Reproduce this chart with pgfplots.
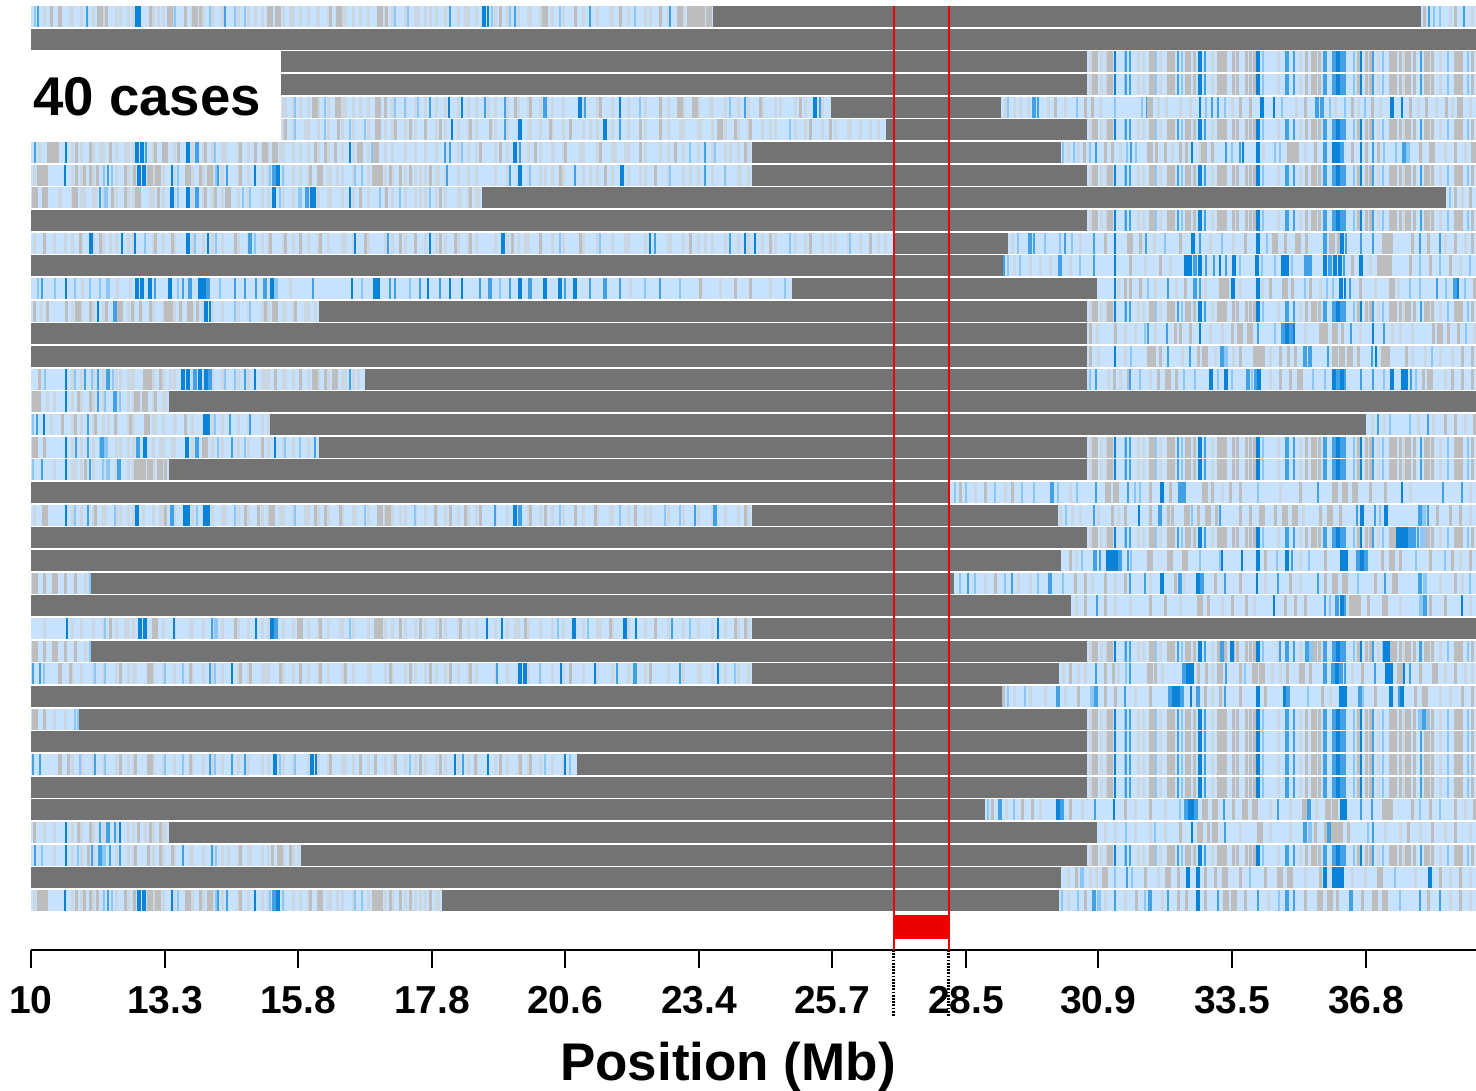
\documentclass[border=0pt]{standalone}
\usepackage{fontspec}
\setmainfont{Liberation Sans}
\usepackage{pgfplots}
\usepackage{pgfplotstable}
\pgfplotsset{compat=1.18}
\definecolor{cband}{HTML}{C6E2FF}
\definecolor{cdark}{HTML}{737373}
\definecolor{cg}{HTML}{BDBDBD}
\definecolor{cp}{HTML}{CAD6E2}
\definecolor{cl}{HTML}{8CC6F5}
\definecolor{cm}{HTML}{42A0E4}
\definecolor{cd}{HTML}{0A82D8}
\definecolor{cred}{HTML}{EE0000}
\newcommand\T[2]{\pgfplotstableread[row sep=\\]{x c\\ #2 }#1}
\T\Tex{72 p\\81 p\\93 p\\103 p\\116 p\\128 p\\133 p\\153 p\\163 p\\174 p\\192 p\\203 p\\212 p\\222 p\\238 p\\248 p\\262 p\\268 p\\283 p\\293 p\\308 p\\318 p\\328 p\\342 p\\353 p\\368 p\\385 p\\392 p\\405 p\\415 p\\425 p\\436 p\\445 p\\458 p\\468 p\\476 p\\495 p\\507 p\\518 p\\528 p\\540 p\\552 p\\563 p\\583 p\\597 p\\612 p\\628 p\\645 p\\668 p\\683 p\\698 p\\712 p\\725 p\\738 p\\748 p\\762 p\\775 p\\795 p\\805 p\\822 p\\835 p\\848 p\\860 p\\878 p\\}
\T\RZero{1090 p\\1095 G\\1101 p\\1106 p\\1110 G\\1115 d\\1125 l\\1126 m\\1130 m\\1138 p\\1143 p\\1152 G\\1156 l\\1160 p\\1168 g\\1172 G\\1178 m\\1182 l\\1188 G\\1194 g\\1200 D\\1205 m\\1212 p\\1220 G\\1224 G\\1233 g\\1237 g\\1246 g\\1250 g\\1254 g\\1258 D\\1263 l\\1278 p\\1287 M\\1294 m\\1300 p\\1306 g\\1314 G\\1319 g\\1325 M\\1334 M\\1338 D\\1342 M\\1345 m\\1354 l\\1358 g\\1361 d\\1366 g\\1370 g\\1373 m\\1378 p\\1383 l\\1390 g\\1394 G\\1400 g\\1404 p\\1408 G\\1414 g\\1421 m\\1427 G\\1432 g\\1440 p\\1448 l\\1455 g\\1460 G\\1468 l\\1472 g\\}
\T\ROne{1424 g\\1429 m\\1434 l\\1440 l\\1450 p\\1455 g\\1464 m\\1472 p\\}
\T\RFive{1005 p\\1008 l\\1014 p\\1020 p\\1028 p\\1034 M\\1038 m\\1048 p\\1055 g\\1065 p\\1077 l\\1085 g\\1092 g\\1100 p\\1115 l\\1142 l\\1147 m\\1150 G\\1158 p\\1166 p\\1180 p\\1190 p\\1200 d\\1206 l\\1212 m\\1218 m\\1225 l\\1232 p\\1240 g\\1250 g\\1262 D\\1274 d\\1282 l\\1296 p\\1305 g\\1317 M\\1322 M\\1330 l\\1335 p\\1345 l\\1352 g\\1358 p\\1365 l\\1372 g\\1380 p\\1392 D\\1402 d\\1410 g\\1418 p\\1426 g\\1436 p\\1446 g\\1452 p\\1460 G\\1470 p\\}
\T\RSeven{1063 l\\1068 p\\1074 l\\1078 p\\1084 g\\1090 l\\1096 m\\1105 g\\1112 g\\1120 p\\1127 l\\1131 m\\1136 l\\1150 G\\1156 g\\1165 g\\1172 p\\1180 g\\1186 g\\1192 d\\1200 p\\1204 G\\1212 g\\1226 m\\1232 l\\1240 m\\1243 d\\1258 D\\1263 p\\1275 l\\1280 l\\1290 G\\1296 G\\1305 p\\1315 g\\1325 M\\1334 D\\1338 D\\1342 M\\1352 g\\1361 d\\1366 g\\1373 m\\1378 g\\1384 l\\1396 l\\1404 M\\1408 L\\1420 g\\1432 G\\1445 p\\1455 g\\1465 p\\1474 G\\}
\T\RNine{1450 l\\1455 g\\1462 p\\1470 g\\}
\T\REleven{1012 p\\1018 l\\1030 M\\1034 m\\1045 l\\1060 l\\1065 m\\1072 l\\1080 p\\1094 m\\1105 g\\1115 d\\1130 G\\1140 g\\1146 m\\1154 p\\1165 l\\1180 g\\1193 D\\1200 m\\1210 p\\1222 l\\1233 p\\1245 g\\1258 D\\1267 l\\1275 G\\1285 g\\1298 G\\1306 g\\1325 M\\1332 G\\1338 g\\1342 D\\1346 m\\1361 m\\1373 m\\1385 G\\1390 G\\1412 g\\1420 m\\1428 g\\1440 m\\1445 p\\1455 g\\1465 p\\1472 g\\}
\T\RTwelve{1004 m\\1008 l\\1014 p\\1020 l\\1030 p\\1040 p\\1050 p\\1060 M\\1070 p\\1080 l\\1094 m\\1115 d\\1130 g\\1145 p\\1160 g\\1170 p\\1186 D\\1190 D\\1195 M\\1200 D\\1206 m\\1214 m\\1220 d\\1226 m\\1234 D\\1240 l\\1257 D\\1262 l\\1275 l\\1283 D\\1287 D\\1292 l\\1306 M\\1310 M\\1325 D\\1330 M\\1335 D\\1340 D\\1344 m\\1352 g\\1361 D\\1370 p\\1380 G\\1386 G\\1390 g\\1410 g\\1420 l\\1430 g\\1440 l\\1450 g\\1460 p\\1470 l\\}
\T\RThirteen{1115 d\\1118 p\\1125 g\\1130 g\\1140 g\\1148 l\\1155 p\\1168 m\\1176 p\\1185 g\\1195 M\\1200 m\\1205 p\\1222 G\\1226 G\\1233 D\\1240 p\\1258 D\\1262 p\\1270 g\\1285 G\\1292 g\\1305 l\\1310 g\\1320 p\\1327 l\\1333 l\\1341 D\\1345 d\\1350 m\\1360 g\\1375 p\\1392 G\\1398 p\\1410 l\\1420 l\\1437 m\\1446 l\\1455 M\\1458 d\\1465 l\\1474 g\\}
\T\RFifteen{1090 g\\1097 p\\1115 g\\1125 p\\1135 p\\1145 l\\1148 m\\1155 p\\1167 m\\1175 g\\1180 g\\1190 g\\1200 d\\1210 p\\1222 p\\1232 g\\1240 G\\1250 G\\1258 m\\1275 l\\1283 M\\1287 D\\1291 M\\1294 d\\1305 p\\1320 g\\1325 G\\1335 G\\1342 g\\1351 m\\1360 p\\1373 d\\1384 m\\1392 p\\1400 p\\1412 p\\1433 g\\1440 G\\1448 g\\1458 g\\1466 l\\1474 p\\}
\T\RSixteen{1090 g\\1098 p\\1115 d\\1125 p\\1131 l\\1150 G\\1154 g\\1160 g\\1168 m\\1182 p\\1190 m\\1198 g\\1205 G\\1215 p\\1222 M\\1226 L\\1233 p\\1240 g\\1256 G\\1262 G\\1270 p\\1280 g\\1288 g\\1295 g\\1305 M\\1310 M\\1328 m\\1335 G\\1342 G\\1350 G\\1358 g\\1372 m\\1376 d\\1384 G\\1388 g\\1406 g\\1412 p\\1425 p\\1432 l\\1440 p\\1452 p\\1462 g\\1472 g\\}
\T\RSeventeen{1090 l\\1096 m\\1108 p\\1114 g\\1120 p\\1128 g\\1130 m\\1140 l\\1150 p\\1158 g\\1168 G\\1176 g\\1184 l\\1195 l\\1211 D\\1218 l\\1226 D\\1232 l\\1248 M\\1252 l\\1256 M\\1259 D\\1270 p\\1280 g\\1290 g\\1300 G\\1313 l\\1325 l\\1334 D\\1338 M\\1342 D\\1345 m\\1361 m\\1373 m\\1384 l\\1392 D\\1403 D\\1406 D\\1411 m\\1416 l\\1423 g\\1430 G\\1445 p\\1452 g\\1462 g\\1472 g\\}
\T\RNineteen{1372 p\\1378 m\\1384 p\\1390 l\\1410 l\\1418 p\\1428 m\\1433 p\\1445 g\\1455 g\\1465 p\\1474 g\\}
\T\RTwentyTwo{955 l\\960 g\\966 l\\975 p\\985 g\\995 l\\1005 p\\1012 g\\1022 l\\1034 l\\1052 M\\1058 l\\1070 p\\1077 l\\1096 m\\1108 G\\1116 G\\1128 m\\1135 l\\1140 l\\1150 g\\1162 D\\1170 g\\1180 M\\1184 M\\1205 G\\1212 g\\1222 p\\1230 g\\1240 g\\1258 l\\1280 p\\1300 g\\1318 m\\1335 G\\1345 G\\1355 G\\1370 g\\1385 g\\1402 d\\1410 p\\1443 m\\1462 m\\1470 p\\}
\T\RTwentyThree{1060 p\\1066 l\\1072 p\\1080 p\\1094 m\\1098 p\\1112 g\\1118 p\\1125 g\\1139 d\\1150 g\\1160 M\\1168 g\\1172 g\\1187 G\\1192 l\\1198 g\\1208 G\\1216 g\\1220 m\\1240 g\\1250 g\\1262 G\\1275 g\\1285 G\\1295 G\\1303 p\\1320 g\\1330 G\\1340 g\\1357 m\\1362 D\\1375 m\\1380 l\\1386 D\\1420 M\\1424 L\\1428 m\\1437 g\\1450 g\\1460 g\\1470 p\\}
\T\RTwentyFourX{1398 D\\1402 D\\1406 D\\1410 M\\1414 M\\1418 m\\1422 L\\1426 l\\}
\T\RTwentyFive{1060 m\\1070 g\\1076 p\\1082 l\\1095 M\\1100 m\\1108 D\\1112 D\\1116 D\\1120 M\\1128 m\\1131 l\\1150 G\\1170 G\\1185 G\\1200 l\\1220 l\\1222 d\\1242 d\\1258 D\\1265 g\\1277 l\\1287 D\\1292 m\\1300 p\\1309 l\\1325 g\\1342 D\\1346 D\\1358 M\\1362 D\\1366 M\\1382 g\\1392 G\\1400 g\\1416 l\\1430 g\\1445 l\\1452 g\\1460 p\\1470 g\\}
\T\RTwentySix{960 l\\968 m\\975 l\\985 p\\995 g\\1005 l\\1012 m\\1018 p\\1030 p\\1038 l\\1050 M\\1063 l\\1075 g\\1085 g\\1092 p\\1105 g\\1115 p\\1125 g\\1130 m\\1145 m\\1150 p\\1162 D\\1175 g\\1180 M\\1184 p\\1198 D\\1202 M\\1215 g\\1225 m\\1240 g\\1257 d\\1265 p\\1278 m\\1290 g\\1300 p\\1318 m\\1325 g\\1335 G\\1345 G\\1358 l\\1375 g\\1385 m\\1395 G\\1420 M\\1425 L\\1440 p\\1455 g\\1462 p\\1470 l\\}
\T\RTwentySeven{1076 p\\1085 g\\1097 m\\1105 g\\1115 p\\1130 p\\1150 g\\1165 g\\1180 p\\1200 G\\1208 g\\1222 p\\1232 g\\1246 g\\1254 p\\1274 d\\1285 g\\1295 g\\1305 g\\1325 m\\1330 l\\1337 M\\1342 D\\1345 m\\1352 G\\1358 G\\1368 g\\1385 G\\1400 p\\1421 L\\1425 M\\1430 g\\1445 g\\1462 d\\1470 p\\}
\T\RTwentyNineX{1222 M\\1232 D\\1280 m\\1307 M\\1311 L\\1385 D\\1388 D\\1420 m\\}
\T\RThirty{1063 p\\1070 g\\1078 p\\1085 p\\1096 m\\1105 g\\1113 g\\1118 p\\1126 l\\1130 m\\1150 G\\1155 g\\1162 p\\1184 M\\1188 D\\1192 D\\1198 g\\1206 g\\1212 p\\1220 G\\1226 m\\1240 g\\1245 l\\1255 G\\1262 G\\1272 p\\1280 p\\1287 g\\1302 G\\1310 g\\1325 M\\1333 M\\1337 D\\1341 M\\1345 m\\1352 p\\1362 g\\1375 m\\1387 D\\1391 D\\1400 G\\1404 d\\1410 m\\1420 g\\1435 G\\1445 p\\1455 g\\1465 p\\1472 p\\}
\T\RThirtyOne{1003 g\\1008 l\\1014 p\\1025 l\\1030 p\\1045 p\\1058 M\\1065 p\\1078 g\\1092 L\\1096 M\\1105 g\\1115 g\\1125 m\\1135 p\\1150 g\\1170 M\\1174 D\\1178 D\\1182 M\\1191 d\\1198 M\\1205 g\\1212 p\\1220 g\\1225 m\\1240 g\\1258 D\\1265 g\\1285 D\\1288 M\\1308 l\\1322 g\\1330 p\\1341 D\\1345 D\\1360 M\\1363 l\\1375 g\\1391 D\\1400 M\\1402 D\\1415 g\\1425 G\\1440 p\\1450 p\\1462 g\\1472 g\\}
\T\RThirtyTwoX{1420 L\\1424 M\\1428 l\\}
\T\RThirtySix{988 l\\992 g\\1000 M\\1006 p\\1014 l\\1022 g\\1032 g\\1040 p\\1058 D\\1062 M\\1070 g\\1082 p\\1095 m\\1114 d\\1125 g\\1135 p\\1150 g\\1165 p\\1180 l\\1186 M\\1190 D\\1193 D\\1196 M\\1205 G\\1215 G\\1224 m\\1233 g\\1245 G\\1255 G\\1270 p\\1278 m\\1290 p\\1305 G\\1309 M\\1316 p\\1328 G\\1335 G\\1342 D\\1345 D\\1361 m\\1372 m\\1385 G\\1390 G\\1412 g\\1420 l\\1430 g\\1440 l\\1455 g\\1465 p\\1474 g\\}
\T\RThirtySeven{1105 p\\1115 p\\1126 l\\1135 p\\1150 p\\1155 l\\1165 p\\1180 g\\1192 d\\1200 G\\1208 g\\1215 G\\1225 m\\1240 p\\1260 G\\1270 p\\1290 p\\1305 M\\1310 L\\1315 g\\1325 g\\1329 M\\1334 G\\1340 G\\1348 g\\1368 l\\1373 m\\1385 p\\1400 p\\1408 g\\1420 p\\1432 g\\1445 p\\1455 g\\1470 p\\}
\T\RThirtyNine{1060 D\\1068 p\\1076 g\\1082 L\\1090 p\\1096 p\\1105 G\\1115 l\\1127 m\\1132 l\\1145 g\\1158 p\\1168 G\\1178 g\\1188 D\\1198 D\\1205 g\\1215 g\\1225 G\\1240 g\\1250 l\\1265 g\\1280 G\\1290 G\\1305 p\\1320 g\\1325 D\\1334 D\\1338 D\\1342 D\\1352 p\\1365 p\\1380 G\\1395 l\\1415 p\\1430 D\\1440 g\\1450 p\\1460 g\\1470 p\\}
\T\RForty{1062 l\\1068 p\\1078 l\\1085 g\\1094 M\\1099 L\\1105 p\\1115 m\\1125 p\\1136 g\\1145 l\\1150 M\\1162 p\\1168 m\\1178 g\\1186 g\\1198 D\\1205 g\\1218 m\\1226 G\\1234 G\\1245 g\\1258 m\\1268 p\\1279 l\\1287 M\\1294 m\\1305 g\\1320 G\\1330 G\\1337 g\\1351 M\\1362 g\\1375 G\\1385 G\\1400 l\\1420 m\\1428 g\\1440 m\\1450 p\\1460 g\\1470 p\\}
\T\LOne{35 l\\38 m\\45 p\\52 g\\60 g\\70 p\\87 m\\100 G\\106 g\\120 p\\137 D\\140 d\\150 g\\158 p\\170 G\\175 l\\185 g\\195 G\\200 g\\210 l\\225 m\\235 l\\245 l\\255 p\\270 G\\278 G\\290 p\\300 p\\317 p\\330 g\\339 G\\345 p\\360 p\\380 G\\386 g\\395 l\\408 l\\418 p\\430 p\\450 m\\465 p\\484 D\\488 d\\492 l\\500 g\\510 l\\515 m\\530 p\\545 G\\560 l\\575 g\\590 m\\610 p\\620 g\\635 l\\650 p\\660 g\\670 m\\680 G\\690 G\\696 G\\702 G\\709 G\\}
\T\LFive{285 p\\295 l\\300 p\\315 G\\325 l\\338 G\\345 p\\360 p\\378 G\\385 g\\395 l\\405 l\\418 l\\430 m\\449 d\\462 d\\485 m\\488 p\\505 m\\515 g\\530 g\\545 M\\580 D\\585 m\\600 g\\620 d\\640 l\\660 g\\680 G\\695 G\\710 p\\730 l\\745 m\\760 g\\780 p\\800 g\\815 D\\820 m\\}
\T\LSix{285 g\\295 l\\305 p\\325 l\\338 g\\350 l\\365 l\\378 G\\385 p\\395 g\\410 g\\425 g\\440 g\\452 d\\470 g\\490 g\\505 m\\520 D\\530 p\\550 g\\570 g\\590 p\\605 D\\620 m\\640 g\\660 g\\680 p\\700 p\\720 G\\735 g\\750 g\\770 p\\790 l\\810 g\\830 g\\850 p\\870 p\\}
\T\LSeven{35 m\\40 p\\50 G\\56 G\\66 d\\76 g\\90 g\\100 p\\110 g\\125 p\\137 D\\142 D\\146 m\\155 g\\165 G\\178 g\\188 D\\197 M\\205 g\\215 l\\225 p\\240 g\\255 g\\265 G\\275 G\\280 p\\300 p\\315 g\\325 g\\335 g\\350 d\\360 G\\372 l\\376 G\\445 m\\450 m\\462 l\\480 g\\500 g\\515 D\\520 m\\535 g\\553 p\\565 g\\580 p\\600 g\\615 p\\625 p\\640 g\\660 p\\675 g\\690 l\\705 m\\715 l\\730 p\\745 g\\}
\T\LEight{35 p\\40 G\\45 G\\65 d\\76 g\\84 g\\90 g\\97 g\\104 l\\108 m\\112 l\\125 g\\134 g\\139 D\\144 D\\150 G\\158 G\\172 d\\178 l\\188 G\\200 g\\210 G\\216 l\\218 m\\227 m\\240 g\\255 d\\270 l\\274 M\\278 D\\283 l\\300 p\\310 g\\320 G\\330 p\\337 p\\355 l\\362 l\\375 G\\380 G\\390 g\\400 g\\410 g\\420 p\\430 g\\438 p\\447 m\\510 m\\520 D\\530 l\\545 p\\560 g\\575 m\\590 p\\605 g\\622 D\\640 p\\655 g\\670 l\\690 p\\705 m\\725 l\\740 p\\}
\T\LNine{35 G\\45 G\\60 p\\75 G\\84 p\\95 p\\100 m\\106 L\\112 g\\125 g\\138 G\\150 p\\158 g\\172 D\\178 l\\188 D\\197 M\\205 g\\215 g\\228 G\\243 l\\250 l\\274 D\\280 l\\300 L\\307 M\\312 D\\315 d\\330 p\\350 d\\360 g\\380 l\\386 g\\400 l\\420 p\\430 l\\440 g\\460 p\\470 g\\478 p\\}
\T\LEleven{35 p\\45 g\\55 p\\65 p\\80 g\\91 D\\100 g\\110 p\\122 d\\135 d\\145 l\\155 g\\172 g\\188 D\\195 l\\208 d\\216 l\\235 g\\250 M\\255 l\\270 g\\285 g\\300 g\\320 g\\345 p\\355 d\\365 g\\388 m\\400 g\\415 g\\430 d\\440 g\\455 g\\470 g\\503 D\\512 g\\525 p\\540 g\\560 l\\580 g\\600 l\\625 p\\650 d\\655 m\\670 p\\690 g\\705 p\\730 m\\745 d\\755 d\\770 g\\790 l\\810 g\\830 p\\850 l\\870 g\\885 p\\}
\T\LThirteen{38 l\\42 m\\55 l\\66 d\\75 l\\82 p\\90 l\\100 l\\108 L\\117 p\\130 p\\137 D\\142 D\\150 D\\155 m\\170 D\\178 l\\183 m\\190 M\\200 D\\204 D\\208 M\\220 l\\235 m\\245 m\\256 m\\265 M\\272 D\\276 L\\290 p\\313 m\\352 d\\362 l\\375 D\\378 D\\390 m\\395 m\\410 l\\420 m\\428 d\\440 m\\450 d\\462 d\\480 m\\490 M\\500 l\\510 m\\520 D\\530 M\\545 D\\560 D\\565 m\\575 D\\590 m\\605 M\\620 m\\630 p\\645 l\\660 m\\680 l\\700 g\\720 p\\735 g\\750 g\\770 p\\785 l\\}
\T\LFourteen{35 g\\42 p\\48 g\\66 g\\78 G\\90 g\\98 d\\106 g\\115 M\\120 G\\132 g\\140 g\\150 g\\165 g\\170 G\\180 g\\190 G\\197 g\\206 D\\210 d\\222 p\\235 l\\250 l\\265 g\\275 G\\285 p\\295 g\\305 p\\315 p\\}
\T\LSeventeen{40 g\\45 l\\66 d\\75 l\\85 m\\92 l\\98 m\\108 M\\113 l\\120 p\\130 p\\146 G\\150 g\\160 g\\170 p\\183 D\\188 D\\195 M\\200 D\\206 D\\210 M\\225 l\\235 l\\245 m\\255 d\\265 p\\275 g\\285 p\\300 g\\315 G\\325 g\\335 G\\345 p\\350 m\\358 p\\}
\T\LEighteen{35 G\\40 g\\48 p\\55 p\\66 d\\78 g\\90 g\\98 m\\105 l\\115 M\\120 l\\137 G\\145 G\\155 g\\165 p\\}
\T\LNineteen{33 l\\37 m\\44 d\\52 p\\62 g\\75 g\\88 m\\95 g\\108 p\\115 g\\130 g\\147 G\\155 p\\175 p\\185 g\\205 D\\208 D\\215 l\\230 m\\250 m\\262 p\\}
\T\LTwenty{35 G\\45 g\\66 d\\76 m\\88 m\\100 l\\102 M\\106 L\\120 p\\138 M\\145 D\\160 p\\172 p\\187 D\\197 M\\205 G\\218 l\\232 m\\245 l\\262 g\\275 d\\285 l\\300 l\\315 m\\}
\T\LTwentyOne{33 l\\42 m\\55 p\\66 d\\75 p\\85 g\\90 m\\103 l\\108 L\\118 m\\120 m\\137 G\\143 G\\150 G\\160 G\\165 g\\}
\T\LTwentyThree{35 p\\45 G\\66 d\\75 l\\88 m\\95 g\\105 p\\115 l\\120 p\\137 D\\143 p\\160 p\\165 g\\172 M\\185 D\\188 D\\197 l\\205 D\\208 D\\225 p\\235 l\\245 g\\258 g\\272 G\\280 p\\295 l\\305 p\\315 g\\325 g\\340 g\\355 p\\365 l\\380 G\\388 G\\400 p\\415 l\\435 g\\450 g\\465 g\\480 g\\495 m\\515 D\\520 M\\530 g\\545 g\\560 l\\575 g\\595 g\\610 p\\620 l\\635 g\\650 p\\665 l\\680 l\\695 m\\715 M\\725 p\\745 g\\}
\T\LTwentySix{35 G\\45 g\\55 G\\65 g\\75 g\\85 p\\90 l\\}
\T\LTwentyEight{45 p\\67 d\\105 l\\110 g\\125 p\\140 D\\145 D\\155 G\\174 d\\190 p\\212 m\\216 L\\235 g\\256 d\\272 D\\276 M\\300 G\\320 g\\340 p\\350 l\\375 g\\380 G\\400 g\\420 g\\440 g\\460 g\\487 d\\502 d\\515 p\\525 g\\558 l\\574 D\\588 l\\600 p\\610 g\\625 D\\636 d\\655 g\\672 m\\690 l\\718 d\\735 g\\745 g\\}
\T\LThirty{33 m\\40 m\\44 l\\60 g\\70 g\\95 l\\105 l\\120 g\\135 p\\150 G\\165 l\\183 l\\190 g\\210 m\\215 l\\232 d\\240 g\\250 g\\265 p\\280 g\\300 g\\320 g\\345 g\\370 p\\390 g\\410 g\\430 g\\450 g\\470 g\\497 m\\520 D\\525 D\\540 l\\561 d\\570 g\\595 d\\617 m\\635 M\\650 g\\680 m\\700 p\\718 d\\735 l\\}
\T\LThirtyTwo{35 G\\45 g\\55 p\\65 p\\75 l\\78 l\\}
\T\LThirtyFour{33 m\\40 m\\60 g\\68 g\\80 l\\95 m\\105 l\\120 g\\135 g\\150 G\\165 l\\183 l\\190 g\\210 m\\215 l\\232 m\\245 m\\262 p\\275 D\\280 l\\295 l\\312 D\\316 d\\330 g\\345 p\\360 g\\375 g\\395 g\\410 l\\420 g\\440 g\\455 d\\463 m\\475 g\\488 d\\500 g\\520 g\\530 g\\545 l\\565 d\\570 l\\}
\T\LThirtySeven{35 g\\45 p\\55 p\\66 d\\78 g\\90 g\\100 m\\108 M\\115 m\\120 d\\138 g\\145 p\\150 g\\160 g\\165 p\\}
\T\LThirtyEight{35 m\\42 l\\55 p\\66 d\\78 l\\88 g\\92 m\\100 M\\104 L\\110 m\\120 m\\135 g\\148 g\\160 g\\172 g\\183 m\\190 p\\212 m\\216 l\\228 p\\240 g\\250 p\\272 g\\280 G\\290 g\\298 p\\}
\newcommand\BB[2]{\addplot[forget plot,draw=cband,line width=21pt] coordinates {(#2,#1)(1476,#1)};}
\newcommand\ST[4]{\addplot[stripe,restrict x to domain=#2:#3] table[x=x,y expr=#1,meta=c]{#4};}
\newcommand\GR[3]{\addplot[forget plot,draw=cdark,line width=21pt] coordinates {(#2,#1)(#3,#1)};}
% band, pale texture from start to end of the left part
\newcommand\BG[3]{\BB{#1}{#2}\ST{#1}{#2}{#3}{\Tex}}
\pgfplotsset{stripe/.style={forget plot,only marks,scatter,scatter src=explicit symbolic,mark=|,mark size=10.5pt,
 scatter/classes={
 g={mark=|,mark size=10.5pt,draw=cg,line width=3pt},
 G={mark=|,mark size=10.5pt,draw=cg,line width=6pt},
 p={mark=|,mark size=10.5pt,draw=cp,line width=3pt},
 l={mark=|,mark size=10.5pt,draw=cl,line width=2pt},
 L={mark=|,mark size=10.5pt,draw=cl,line width=4pt},
 m={mark=|,mark size=10.5pt,draw=cm,line width=2pt},
 M={mark=|,mark size=10.5pt,draw=cm,line width=4pt},
 d={mark=|,mark size=10.5pt,draw=cd,line width=2pt},
 D={mark=|,mark size=10.5pt,draw=cd,line width=4pt}}}}
\begin{document}
\begin{tikzpicture}[x=1pt,y=1pt]
\path[use as bounding box] (0,0) rectangle (1476pt,1091pt);
\begin{axis}[at={(31pt,141pt)},anchor=south west,scale only axis,width=1445pt,height=950pt,
 xmin=31,xmax=1476,ymin=0,ymax=950,clip=false,
 axis y line=none,axis x line=bottom,axis line style={line width=2pt,-},
 xtick={31,165,298,432,565,699,832,966,1098,1232,1366},
 xticklabels={10,13.3,15.8,17.8,20.6,23.4,25.7,28.5,30.9,33.5,36.8},
 tick align=outside,major tick length=18pt,tick style={line width=1.5pt,black},
 xticklabel style={font=\fontsize{39}{41}\selectfont\bfseries,yshift=-15pt},
 xlabel={Position (Mb)},
 xlabel style={at={(axis cs:728,-117)},anchor=center,font=\fontsize{53}{56}\selectfont\bfseries}]
\BG{933.3}{31}{709}\ST{933.3}{31}{713}{\LOne}\ST{933.3}{1421}{1476}{\ROne}\GR{933.3}{713}{1421}
\GR{910.6}{31}{1476}
\BB{888.0}{281}\ST{888.0}{1087}{1476}{\RZero}\GR{888.0}{281}{1087}
\BB{865.3}{281}\ST{865.3}{1087}{1476}{\RZero}\GR{865.3}{281}{1087}
\BG{842.7}{281}{829}\ST{842.7}{281}{831}{\LFive}\ST{842.7}{1001}{1476}{\RFive}\GR{842.7}{831}{1001}
\BG{820.0}{281}{884}\ST{820.0}{281}{886}{\LSix}\ST{820.0}{1087}{1476}{\RZero}\GR{820.0}{886}{1087}
\BG{797.3}{31}{750}\ST{797.3}{31}{752}{\LSeven}\ST{797.3}{1061}{1476}{\RSeven}\GR{797.3}{752}{1061}
\BG{774.7}{31}{750}\ST{774.7}{31}{752}{\LEight}\ST{774.7}{1087}{1476}{\RZero}\GR{774.7}{752}{1087}
\BG{752.0}{31}{480}\ST{752.0}{31}{482}{\LNine}\ST{752.0}{1446}{1476}{\RNine}\GR{752.0}{482}{1446}
\BB{729.4}{1087}\ST{729.4}{1087}{1476}{\RZero}\GR{729.4}{31}{1087}
\BG{706.7}{31}{891}\ST{706.7}{31}{893}{\LEleven}\ST{706.7}{1008}{1476}{\REleven}\GR{706.7}{893}{1008}
\BB{684.0}{1003}\ST{684.0}{1003}{1476}{\RTwelve}\GR{684.0}{31}{1003}
\BB{661.4}{31}\ST{661.4}{31}{792}{\LThirteen}\ST{661.4}{1097}{1476}{\RThirteen}\GR{661.4}{792}{1097}
\BG{638.7}{31}{317}\ST{638.7}{31}{319}{\LFourteen}\ST{638.7}{1087}{1476}{\RZero}\GR{638.7}{319}{1087}
\BB{616.1}{1087}\ST{616.1}{1087}{1476}{\RFifteen}\GR{616.1}{31}{1087}
\BB{593.4}{1087}\ST{593.4}{1087}{1476}{\RSixteen}\GR{593.4}{31}{1087}
\BG{570.7}{31}{363}\ST{570.7}{31}{365}{\LSeventeen}\ST{570.7}{1087}{1476}{\RSeventeen}\GR{570.7}{365}{1087}
\BG{548.1}{31}{167}\ST{548.1}{31}{169}{\LEighteen}\GR{548.1}{169}{1476}
\BG{525.4}{31}{268}\ST{525.4}{31}{270}{\LNineteen}\ST{525.4}{1366}{1476}{\RNineteen}\GR{525.4}{270}{1366}
\BG{502.8}{31}{317}\ST{502.8}{31}{319}{\LTwenty}\ST{502.8}{1087}{1476}{\RZero}\GR{502.8}{319}{1087}
\BG{480.1}{31}{167}\ST{480.1}{31}{169}{\LTwentyOne}\ST{480.1}{1087}{1476}{\RZero}\GR{480.1}{169}{1087}
\BB{457.4}{950}\ST{457.4}{950}{1476}{\RTwentyTwo}\GR{457.4}{31}{950}
\BG{434.8}{31}{750}\ST{434.8}{31}{752}{\LTwentyThree}\ST{434.8}{1058}{1476}{\RTwentyThree}\GR{434.8}{752}{1058}
\BB{412.1}{1087}\ST{412.1}{1087}{1476}{\RZero}\ST{412.1}{1087}{1476}{\RTwentyFourX}\GR{412.1}{31}{1087}
\BB{389.5}{1061}\ST{389.5}{1061}{1476}{\RTwentyFive}\GR{389.5}{31}{1061}
\BB{366.8}{31}\ST{366.8}{31}{91}{\LTwentySix}\ST{366.8}{954}{1476}{\RTwentySix}\GR{366.8}{91}{954}
\BB{344.1}{1071}\ST{344.1}{1071}{1476}{\RTwentySeven}\GR{344.1}{31}{1071}
\BG{321.5}{31}{750}\ST{321.5}{31}{752}{\LTwentyEight}\GR{321.5}{752}{1476}
\BB{298.8}{31}\ST{298.8}{31}{91}{\LTwentySix}\ST{298.8}{1087}{1476}{\RZero}\ST{298.8}{1087}{1476}{\RTwentyNineX}\GR{298.8}{91}{1087}
\BG{276.2}{31}{750}\ST{276.2}{31}{752}{\LThirty}\ST{276.2}{1059}{1476}{\RThirty}\GR{276.2}{752}{1059}
\BB{253.5}{1003}\ST{253.5}{1003}{1476}{\RThirtyOne}\GR{253.5}{31}{1003}
\BB{230.8}{31}\ST{230.8}{31}{79}{\LThirtyTwo}\ST{230.8}{1087}{1476}{\RZero}\ST{230.8}{1087}{1476}{\RThirtyTwoX}\GR{230.8}{79}{1087}
\BB{208.2}{1087}\ST{208.2}{1087}{1476}{\RZero}\GR{208.2}{31}{1087}
\BG{185.5}{31}{575}\ST{185.5}{31}{577}{\LThirtyFour}\ST{185.5}{1087}{1476}{\RZero}\GR{185.5}{577}{1087}
\BB{162.9}{1087}\ST{162.9}{1087}{1476}{\RZero}\GR{162.9}{31}{1087}
\BB{140.2}{985}\ST{140.2}{985}{1476}{\RThirtySix}\GR{140.2}{31}{985}
\BG{117.5}{31}{167}\ST{117.5}{31}{169}{\LThirtySeven}\ST{117.5}{1097}{1476}{\RThirtySeven}\GR{117.5}{169}{1097}
\BG{94.9}{31}{299}\ST{94.9}{31}{301}{\LThirtyEight}\ST{94.9}{1087}{1476}{\RZero}\GR{94.9}{301}{1087}
\BB{72.2}{1061}\ST{72.2}{1061}{1476}{\RThirtyNine}\GR{72.2}{31}{1061}
\BG{49.6}{31}{440}\ST{49.6}{31}{442}{\LEight}\ST{49.6}{1059}{1476}{\RForty}\GR{49.6}{442}{1059}
\addplot[forget plot,draw=cred,line width=1.3pt] coordinates {(894,0)(894,944)};
\addplot[forget plot,draw=cred,line width=1.3pt] coordinates {(949,0)(949,944)};
\addplot[forget plot,fill=cred,draw=none] coordinates {(894,11)(949,11)(949,35)(894,35)} --cycle;
\addplot[forget plot,draw=black,line width=3pt,dash pattern=on 1.8pt off 1.4pt] coordinates {(893,0)(893,-67)};
\addplot[forget plot,draw=black,line width=3pt,dash pattern=on 1.8pt off 1.4pt] coordinates {(948,0)(948,-67)};
\node[anchor=west,inner sep=0pt,font=\fontsize{54.6}{56}\selectfont\bfseries] at (axis cs:33,853) {40 cases};
\end{axis}
\end{tikzpicture}
\end{document}
